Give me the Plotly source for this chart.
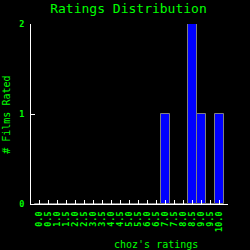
import plotly.graph_objects as go

ratings = [0.0, 0.5, 1.0, 1.5, 2.0, 2.5, 3.0, 3.5, 4.0, 4.5, 5.0,
           5.5, 6.0, 6.5, 7.0, 7.5, 8.0, 8.5, 9.0, 9.5, 10.0]
counts = [0, 0, 0, 0, 0, 0, 0, 0, 0, 0, 0,
          0, 0, 0, 1, 0, 0, 2, 1, 0, 1]
tick_labels = ["0.0", "0.5", "1.0", "1.5", "2.0", "2.5", "3.0", "3.5", "4.0", "4.5", "5.0",
               "5.5", "6.0", "6.5", "7.0", "7.5", "8.0", "8.5", "9.0", "9.5", "10.0"]
y_ticks = [0, 1, 2]

GREEN = "#00ff00"
MONO = "DejaVu Sans Mono, Liberation Mono, monospace"

fig = go.Figure(go.Bar(
    x=ratings, y=counts, width=0.48,
    marker=dict(color="#0000ff", line=dict(color="#808080", width=1)),
))

fig.update_layout(
    width=250, height=250,
    paper_bgcolor="black", plot_bgcolor="black",
    margin=dict(l=31, r=22, t=24, b=46),
    showlegend=False,
    title=dict(text="Ratings Distribution", x=0.514, xanchor="center",
               y=1 - 8.5 / 250, yanchor="middle",
               font=dict(family=MONO, size=13, color=GREEN)),
    bargap=0,
)
fig.update_xaxes(
    range=[-0.46, 10.48], tickmode="array", tickvals=ratings, ticktext=tick_labels,
    tickangle=-90, showgrid=False, zeroline=False,
    showline=True, linecolor="white", linewidth=1,
    ticks="inside", ticklen=4, tickcolor="white", tickwidth=1,
    ticklabelstandoff=3,
    tickfont=dict(family=MONO, size=8.5, color=GREEN, weight="bold"),
)
fig.update_yaxes(
    range=[0, 2], tickmode="array", tickvals=y_ticks, ticktext=[str(v) for v in y_ticks],
    showgrid=False, zeroline=False,
    showline=True, linecolor="white", linewidth=1,
    ticks="inside", ticklen=4, tickcolor="white", tickwidth=1,
    ticklabelstandoff=4,
    tickfont=dict(family=MONO, size=8.5, color=GREEN, weight="bold"),
)
fig.add_annotation(text="choz's ratings", xref="paper", yref="paper",
                   x=(156 - 31) / 197, y=-(244 - 204) / 179.5, xanchor="center", yanchor="middle",
                   showarrow=False, font=dict(family=MONO, size=10, color=GREEN))
fig.add_annotation(text="# Films Rated", xref="paper", yref="paper",
                   x=-(31 - 7) / 197, y=(204 - 115) / 179.5, xanchor="center", yanchor="middle",
                   textangle=-90, showarrow=False, font=dict(family=MONO, size=10, color=GREEN))

fig.write_html("out.html")
